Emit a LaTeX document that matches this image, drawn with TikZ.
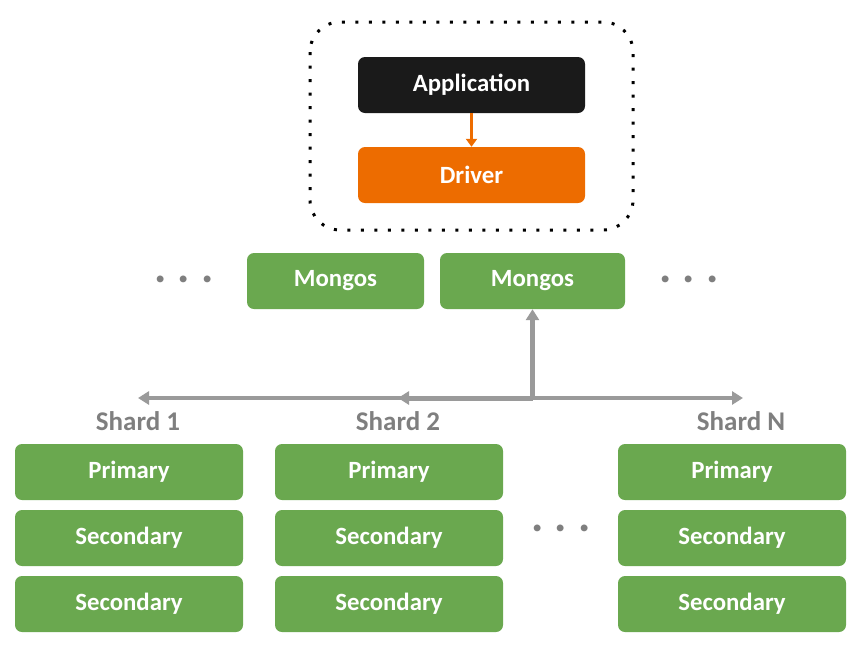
\documentclass[tikz,border=0pt]{standalone}
\usepackage{fontspec}
\setmainfont{Carlito}
\usetikzlibrary{arrows.meta}
\definecolor{appblack}{HTML}{1A1A1A}
\definecolor{drvorange}{HTML}{ED6C00}
\definecolor{mgreen}{HTML}{6AA84F}
\definecolor{lgray}{HTML}{9A9A9A}
\definecolor{tgray}{HTML}{7F7F7F}
\begin{document}
\begin{tikzpicture}[x=1pt, y=-1pt, line join=round,
	box/.style={rounded corners=7pt, minimum height=56pt, inner sep=0pt, text=white, font=\fontsize{24.8}{28}\selectfont\bfseries},
	greenbox/.style={box, fill=mgreen, minimum width=228pt},
	shardlabel/.style={text=tgray, font=\fontsize{27}{30}\selectfont\bfseries},
	dots/.style={text=tgray, font=\fontsize{46}{50}\selectfont\bfseries},
	gline/.style={draw=lgray, line width=3.5pt, -{Triangle[length=11pt, width=13pt]}}]
	\useasboundingbox (0,0) rectangle (866,646);
	\draw[line width=3pt, dash pattern=on 3pt off 10.5pt, rounded corners=30pt] (310,22) rectangle (633,230);
	\node[box, fill=appblack, minimum width=227pt] (app) at (471.5,85) {Application};
	\node[box, fill=drvorange, minimum width=227pt] (drv) at (471.5,175) {Driver};
	\draw[drvorange, line width=3.5pt, -{Triangle[length=8pt, width=11pt]}] (app) -- (drv);
	\node[greenbox, minimum width=177pt] (mg1) at (335.5,281) {Mongos};
	\node[greenbox, minimum width=185pt] (mg2) at (532.5,281) {Mongos};
	\node[dots] (dl) at (184,279) {.\hspace{11pt}.\hspace{11pt}.};
	\node[dots] (dr) at (689,279) {.\hspace{11pt}.\hspace{11pt}.};
	\coordinate (hub) at (532.5,398);
	\coordinate (e1) at (138,398);
	\coordinate (e2) at (398,398);
	\coordinate (eN) at (743,398);
	\draw[gline] (hub) -- (e1);
	\draw[gline] (hub) -- (eN);
	\draw[gline, line width=5pt] (hub) -- (e2);
	\draw[gline, line width=4.5pt] (hub) -- (mg2.south);
	\node[shardlabel] (sh1) at (138,421) {Shard 1};
	\node[shardlabel] (sh2) at (398,421) {Shard 2};
	\node[shardlabel] (shN) at (741,421) {Shard N};
	\foreach \c/\x in {1/129, 2/389, N/732} {
		\node[greenbox] (p\c) at (\x,472) {Primary};
		\node[greenbox] (sa\c) at (\x,538) {Secondary};
		\node[greenbox] (sb\c) at (\x,604) {Secondary};
	}
	\node[dots] (dm) at (561,528) {.\hspace{11pt}.\hspace{11pt}.};
\end{tikzpicture}
\end{document}
